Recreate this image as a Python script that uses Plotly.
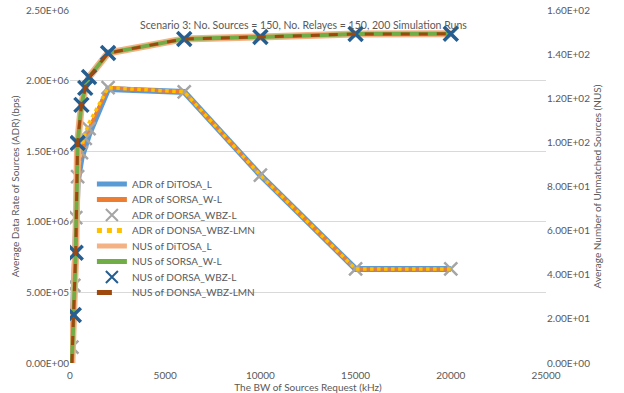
import plotly.graph_objects as go

# ---- data ----
bw_khz = [100, 200, 300, 400, 600, 800, 1000, 2000, 6000, 10000, 15000, 20000]

adr_ditosa_l = [1.10e5, 5.40e5, 1.00e6, 1.28e6, 1.45e6, 1.55e6, 1.62e6, 1.94e6, 1.92e6, 1.33e6, 6.66e5, 6.66e5]
adr_sorsa_wl = [1.13e5, 5.50e5, 1.03e6, 1.32e6, 1.49e6, 1.59e6, 1.66e6, 1.95e6, 1.92e6, 1.33e6, 6.66e5, 6.66e5]
adr_dorsa_wbzl = [1.13e5, 5.50e5, 1.03e6, 1.32e6, 1.49e6, 1.59e6, 1.66e6, 1.95e6, 1.92e6, 1.33e6, 6.66e5, 6.66e5]
adr_donsa_wbzlmn = [1.20e5, 5.60e5, 1.04e6, 1.34e6, 1.52e6, 1.63e6, 1.70e6, 1.95e6, 1.92e6, 1.33e6, 6.66e5, 6.66e5]

nus_ditosa_l = [0.0, 21.8, 50.0, 99.7, 117.0, 124.7, 129.6, 140.5, 146.9, 147.8, 149.1, 149.2]
nus_sorsa_wl = [0.0, 21.8, 50.0, 99.7, 117.0, 124.7, 129.6, 140.5, 146.9, 147.8, 149.1, 149.2]
nus_dorsa_wbzl = [None, 21.8, 50.0, 99.7, 117.0, 124.7, 129.6, 140.5, 146.9, 147.8, 149.1, 149.2]
nus_donsa_wbzlmn = [0.0, 21.8, 50.0, 99.7, 117.0, 124.7, 129.6, 140.5, 146.9, 147.8, 149.1, 149.2]

x_ticks = [0, 5000, 10000, 15000, 20000, 25000]
x_ticktext = ["0", "5000", "10000", "15000", "20000", "25000"]
adr_ticks = [0, 5e5, 1e6, 1.5e6, 2e6, 2.5e6]
adr_ticktext = ["0.00E+00", "5.00E+05", "1.00E+06", "1.50E+06", "2.00E+06", "2.50E+06"]
nus_ticks = [0, 20, 40, 60, 80, 100, 120, 140, 160]
nus_ticktext = ["0.00E+00", "2.00E+01", "4.00E+01", "6.00E+01", "8.00E+01",
                "1.00E+02", "1.20E+02", "1.40E+02", "1.60E+02"]

title_text = "Scenario 3: No. Sources = 150, No. Relayes = 150, 200 Simulation Runs"

FONT = "Lato"
GREY = "#595959"

FIG_W, FIG_H = 624, 393
M_L, M_R, M_T, M_B = 70, 78, 10, 30

fig = go.Figure()

traces = [
    dict(x=bw_khz, y=adr_ditosa_l, name="ADR of DiTOSA_L", mode="lines",
         line=dict(color="#5B9BD5", width=6)),
    dict(x=bw_khz, y=adr_sorsa_wl, name="ADR of SORSA_W-L", mode="lines",
         line=dict(color="#ED7D31", width=3.5)),
    dict(x=bw_khz, y=adr_dorsa_wbzl, name="ADR of DORSA_WBZ-L", mode="markers",
         marker=dict(symbol="x-thin-open", size=13, color="#A5A5A5",
                     line=dict(color="#A5A5A5", width=2.5))),
    dict(x=bw_khz, y=adr_donsa_wbzlmn, name="ADR of DONSA_WBZ-LMN", mode="lines",
         line=dict(color="#FFC000", width=3.5, dash="dot")),
    dict(x=bw_khz, y=nus_ditosa_l, name="NUS of DiTOSA_L", mode="lines", yaxis="y2",
         line=dict(color="#F4B183", width=7)),
    dict(x=bw_khz, y=nus_sorsa_wl, name="NUS of SORSA_W-L", mode="lines", yaxis="y2",
         line=dict(color="#70AD47", width=4)),
    dict(x=bw_khz, y=nus_dorsa_wbzl, name="NUS of DORSA_WBZ-L", mode="markers", yaxis="y2",
         marker=dict(symbol="x-thin-open", size=14, color="#255E91",
                     line=dict(color="#255E91", width=3.5))),
    dict(x=bw_khz, y=nus_donsa_wbzlmn, name="NUS of DONSA_WBZ-LMN", mode="lines", yaxis="y2",
         line=dict(color="#9E480E", width=3, dash="dash")),
]

plot_h = FIG_H - M_T - M_B
legend_layout = {}
row_top_px = 184.0
row_step_px = 15.5
for i, t in enumerate(traces):
    key = "legend" if i == 0 else f"legend{i + 1}"
    t["legend"] = key
    fig.add_trace(go.Scatter(**t))
    ypx = row_top_px + i * row_step_px
    legend_layout[key] = dict(
        x=0.046, y=(FIG_H - M_B - ypx) / plot_h,
        xanchor="left", yanchor="middle", bgcolor="rgba(0,0,0,0)",
        font=dict(family=FONT, size=10, color=GREY), itemwidth=30,
        itemsizing="constant",
    )

fig.update_layout(
    width=FIG_W, height=FIG_H,
    margin=dict(l=M_L, r=M_R, t=M_T, b=M_B),
    paper_bgcolor="white", plot_bgcolor="white",
    font=dict(family=FONT, size=10, color=GREY),
    showlegend=True,
    xaxis=dict(range=[0, 25000], tickvals=x_ticks, ticktext=x_ticktext,
               showgrid=False, zeroline=False, showline=False, ticks="", automargin=False,
               ticklabelstandoff=5,
               tickfont=dict(size=10, color=GREY),
               title=dict(text="The BW of Sources Request (kHz)", font=dict(size=10, color=GREY), standoff=0)),
    yaxis=dict(range=[0, 2.5e6], tickvals=adr_ticks, ticktext=adr_ticktext, automargin=False,
               showgrid=True, gridcolor="#D9D9D9", gridwidth=1, zeroline=False, showline=False, ticks="",
               tickfont=dict(size=10, color=GREY),
               title=dict(text="Average Data Rate of Sources (ADR) (bps)", font=dict(size=10, color=GREY), standoff=4)),
    yaxis2=dict(range=[0, 160], tickvals=nus_ticks, ticktext=nus_ticktext, overlaying="y", side="right",
                showgrid=False, zeroline=False, showline=False, ticks="", automargin=False,
                tickfont=dict(size=10, color=GREY),
                title=dict(text="Average Number of Unmatched Sources (NUS)", font=dict(size=10, color=GREY), standoff=4)),
    annotations=[dict(text=title_text, xref="paper", yref="paper", x=0.49, y=(FIG_H - M_B - 25) / plot_h,
                      xanchor="center", yanchor="middle", showarrow=False,
                      font=dict(family=FONT, size=10.5, color=GREY))],
    **legend_layout,
)

fig.write_html("out.html", config={"displayModeBar": False},
               post_script="document.body.style.margin='0px';")
